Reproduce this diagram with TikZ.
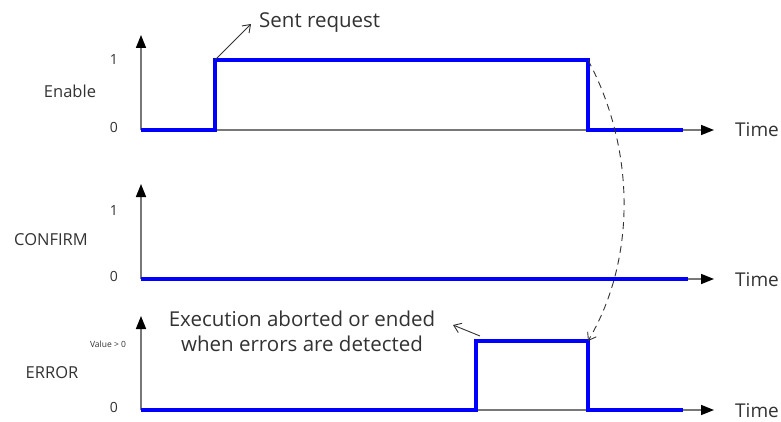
\documentclass[tikz,border=0pt]{standalone}
\usepackage{fontspec}
\setmainfont{Open Sans}
\usetikzlibrary{arrows.meta}
\definecolor{sigblue}{RGB}{0,0,255}
\definecolor{axgray}{RGB}{120,120,120}
\definecolor{txtgray}{RGB}{50,50,50}
\begin{document}
\begin{tikzpicture}[x=1pt,y=-1pt,
  axis/.style={draw=axgray,line width=1.6pt},
  axtip/.style={-{Triangle[length=13pt,width=10pt,black]}},
  signal/.style={draw=sigblue,line width=3.6pt,line join=miter},
  lbl/.style={text=txtgray,font=\fontsize{16.5}{19}\selectfont,inner sep=0pt},
  tick/.style={text=txtgray,font=\fontsize{14}{16}\selectfont,inner sep=0pt},
  timelbl/.style={text=txtgray,font=\fontsize{19}{22}\selectfont,inner sep=0pt,anchor=west},
  note/.style={text=txtgray,font=\fontsize{20.5}{25}\selectfont,inner sep=0pt,align=center},
  pointer/.style={draw=txtgray,line width=0.9pt,-{Straight Barb[length=7pt,width=10pt]}}]
\useasboundingbox (0,0) rectangle (781,422);

% ---------- Enable ----------
\coordinate (eO) at (141,130);
\coordinate (eTop) at (141,35);
\coordinate (eEnd) at (714,130);
\draw[axis,axtip] (eO) -- (eTop);
\draw[axis,axtip] (eO) -- (eEnd);
\coordinate (eR0) at (215,130);
\coordinate (eR1) at (215,60);
\coordinate (eF1) at (588,60);
\coordinate (eF0) at (588,130);
\coordinate (eS) at (683,130);
\draw[signal] (eO) -- (eR0) -- (eR1) -- (eF1) -- (eF0) -- (eS);
\node[tick] (e1) at (114,60) {1};
\node[tick] (e0) at (114,127) {0};
\node[lbl] (enable) at (70,91) {Enable};
\node[timelbl] (etime) at (735,130) {Time};
\node[note,anchor=west] (sent) at (259,23) {Sent request};
\coordinate (sentTip) at (251,24);
\draw[pointer] (eR1) -- (sentTip);

% ---------- CONFIRM ----------
\coordinate (cO) at (141,279);
\coordinate (cTop) at (141,184);
\coordinate (cEnd) at (714,279);
\draw[axis,axtip] (cO) -- (cTop);
\draw[axis,axtip] (cO) -- (cEnd);
\coordinate (cS) at (688,279);
\draw[signal] (cO) -- (cS);
\node[tick] (c1) at (114,211) {1};
\node[tick] (c0) at (114,276) {0};
\node[lbl] (confirm) at (51,240) {CONFIRM};
\node[timelbl] (ctime) at (735,280) {Time};

% ---------- ERROR ----------
\coordinate (rO) at (141,410);
\coordinate (rTop) at (141,316);
\coordinate (rEnd) at (714,410);
\draw[axis,axtip] (rO) -- (rTop);
\draw[axis,axtip] (rO) -- (rEnd);
\coordinate (rR0) at (476,410);
\coordinate (rR1) at (476,341);
\coordinate (rF1) at (588,341);
\coordinate (rF0) at (588,410);
\coordinate (rS) at (683,410);
\draw[signal] (rO) -- (rR0) -- (rR1) -- (rF1) -- (rF0) -- (rS);
\node[text=txtgray,font=\fontsize{8.5}{10}\selectfont,inner sep=0pt] (rv) at (108,344) {Value > 0};
\node[tick] (r0) at (114,407) {0};
\node[lbl] (error) at (52,373) {ERROR};
\node[timelbl] (rtime) at (735,411) {Time};
\node[note] (exec) at (302,331) {Execution aborted or ended\\when errors are detected};
\coordinate (execFrom) at (480,336);
\coordinate (execTip) at (453,325);
\draw[pointer] (execFrom) -- (execTip);

% ---------- dashed link ----------
\draw[draw=black!80,line width=0.9pt,dash pattern=on 7pt off 5pt,-{Straight Barb[length=7pt,width=10pt]}]
  (eF1) .. controls (636,150) and (636,260) .. (rF1);
\end{tikzpicture}
\end{document}
